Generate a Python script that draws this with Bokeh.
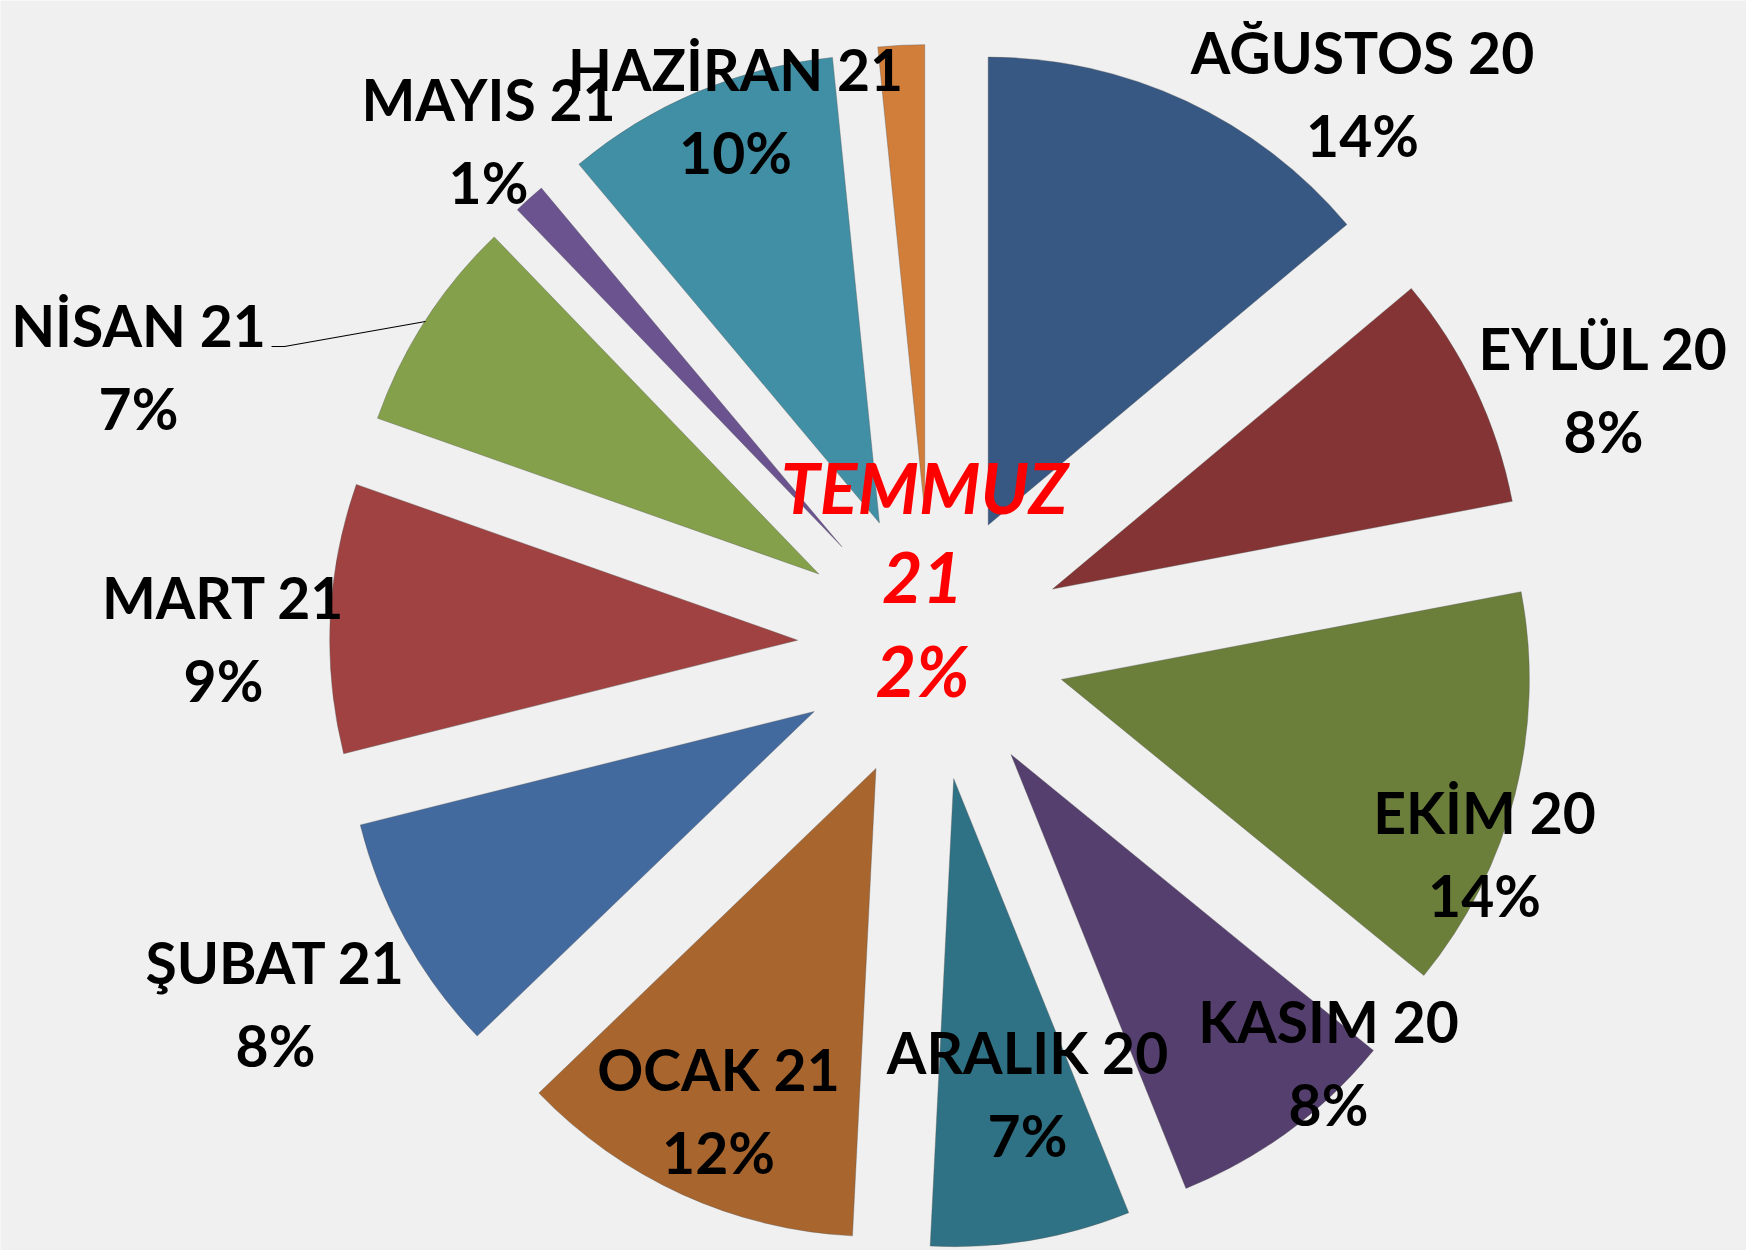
import math
from bokeh.plotting import figure
from bokeh.models import Range1d, ColumnDataSource
from bokeh.core.properties import value
from bokeh.embed import file_html
from bokeh.resources import INLINE

# ---- data ----
months = ["AĞUSTOS 20", "EYLÜL 20", "EKİM 20", "KASIM 20", "ARALIK 20", "OCAK 21",
          "ŞUBAT 21", "MART 21", "NİSAN 21", "MAYIS 21", "HAZİRAN 21", "TEMMUZ 21"]
shares = [13.9, 8.1, 13.9, 8.0, 6.9, 12.0, 8.3, 9.3, 7.4, 1.1, 9.5, 1.6]
colors = ["#375883", "#843434", "#6b7f3b", "#553f6e", "#2f7285", "#a8652e",
          "#436a9f", "#a04241", "#84a04a", "#6b5390", "#418fa5", "#d17e3a"]

# ---- layout (page pixels; data y = H - screen y) ----
W, H = 1746, 1250
CX, CY = 931, H - 646
R = 468
EXPLODE = 134
label_pos = [(1362, 51), (1603, 347), (1484, 811), (1328, 1020), (1027, 1051), (718, 1068),
             (275, 961), (223, 596), (138, 324), (488, 98), (735, 68), (924, 486)]
LINE_GAP = 83

total = sum(shares)
xs, ys, starts, ends = [], [], [], []
cum = 0.0
for s in shares:
    a0 = cum / total * 360.0
    a1 = (cum + s) / total * 360.0
    mid = math.radians((a0 + a1) / 2)
    xs.append(CX + EXPLODE * math.sin(mid))
    ys.append(CY + EXPLODE * math.cos(mid))
    starts.append(90 - a0)
    ends.append(90 - a1)
    cum += s

src = ColumnDataSource(dict(x=xs, y=ys, start=starts, end=ends, color=colors))

p = figure(width=W, height=H, output_backend="svg", toolbar_location=None,
           x_range=Range1d(0, W), y_range=Range1d(0, H),
           min_border=0, background_fill_color="#f0f0f0", border_fill_color="#f0f0f0")
p.axis.visible = False
p.grid.visible = False
p.outline_line_color = None

p.wedge(x="x", y="y", radius=R, start_angle="start", end_angle="end",
        start_angle_units="deg", end_angle_units="deg", direction="clock",
        fill_color="color", line_color="#555555", line_alpha=0.35, line_width=1, source=src)

# leader line for NİSAN
p.line(x=[271, 284, 425], y=[H - 346, H - 346, H - 321], line_color="black", line_width=1.2)

pct = [f"{round(s / total * 100)}%" for s in shares]
n = len(months)
lx1, ly1, t1, lx2, ly2, t2 = [], [], [], [], [], []
for i in range(n - 1):
    x, y = label_pos[i]
    lx1.append(x); ly1.append(H - y); t1.append(months[i])
    lx2.append(x); ly2.append(H - y - LINE_GAP); t2.append(pct[i])

for X, Y, T in ((lx1, ly1, t1), (lx2, ly2, t2)):
    p.text(x=X, y=Y, text=T, text_font=value("Lato"), text_font_style="bold",
           text_font_size="57px", text_align="center", text_baseline="middle", text_color="black")

tx, ty = label_pos[-1]
name, yr = months[-1].split(" ")
p.text(x=[tx, tx - 2, tx - 2], y=[H - ty, H - ty - 91, H - ty - 183],
       text=[name, yr, pct[-1]], text_font=value("Lato"), text_font_style="bold italic",
       text_font_size="70px", text_align="center", text_baseline="middle", text_color="#ff0000")

open("out.html", "w").write(file_html(p, INLINE))
